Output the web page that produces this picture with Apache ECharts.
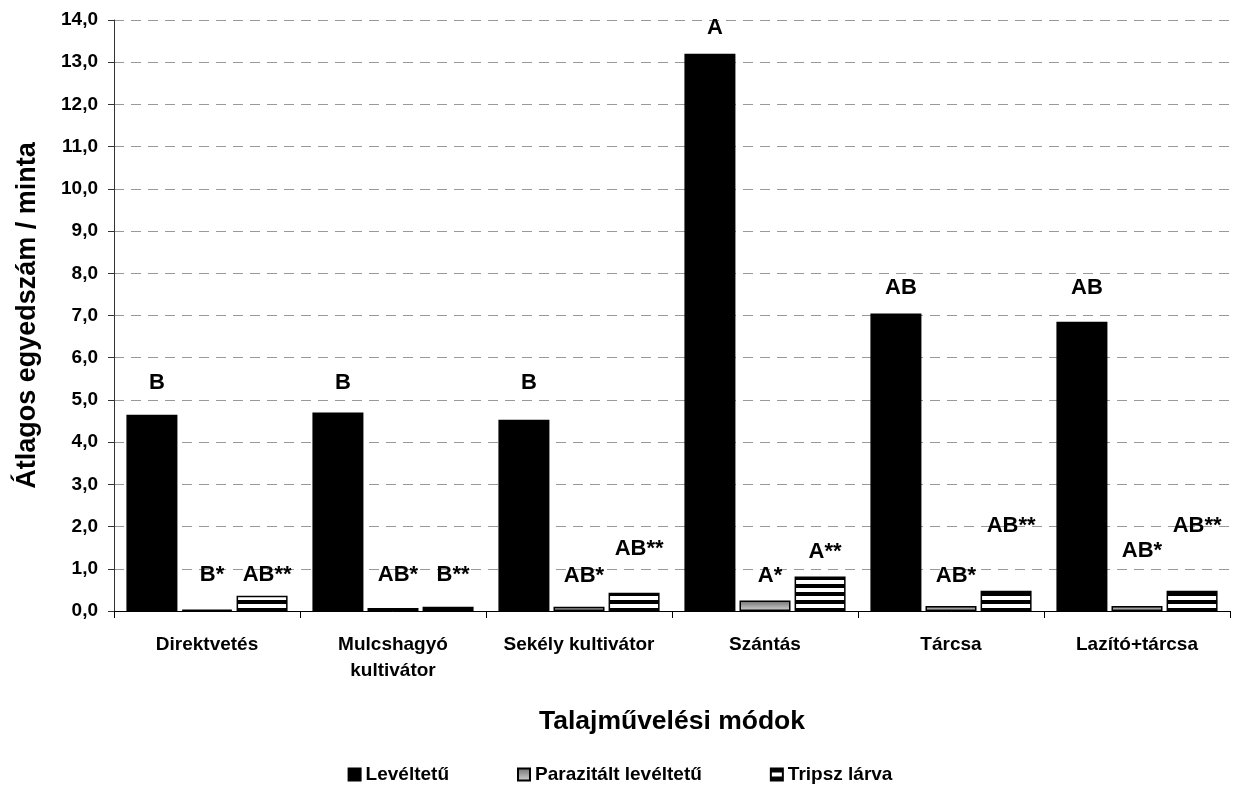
<!DOCTYPE html>
<html>
<head>
<meta charset="utf-8">
<script src="https://cdn.jsdelivr.net/npm/echarts@6/dist/echarts.min.js"></script>
<style>
html,body{margin:0;padding:0;background:#fff;}
#chart{width:1240px;height:785px;}
</style>
</head>
<body>
<div id="chart"></div>
<script>
// ---- data ----
var categories = ['Direktvetés', 'Mulcshagyó\nkultivátor', 'Sekély kultivátor', 'Szántás', 'Tárcsa', 'Lazító+tárcsa'];
var seriesNames = ['Levéltetű', 'Parazitált levéltetű', 'Tripsz lárva'];
var levelteto = [4.65, 4.70, 4.53, 13.2, 7.05, 6.85];
var parazitalt = [0.03, 0.07, 0.10, 0.25, 0.12, 0.12];
var tripsz = [0.36, 0.10, 0.43, 0.82, 0.48, 0.48];
// significance letters and the value height at which each is printed
var leveltetoLetters = ['B', 'B', 'B', 'A', 'AB', 'AB'];
var leveltetoLetterY = [5.40, 5.40, 5.40, 13.82, 7.65, 7.65];
var parazitaltLetters = ['B*', 'AB*', 'AB*', 'A*', 'AB*', 'AB*'];
var parazitaltLetterY = [0.85, 0.85, 0.82, 0.82, 0.82, 1.42];
var tripszLetters = ['AB**', 'B**', 'AB**', 'A**', 'AB**', 'AB**'];
var tripszLetterY = [0.85, 0.85, 1.47, 1.40, 2.02, 2.02];
var yMin = 0, yMax = 14, yStep = 1;

// ---- styles ----
var FONT = '"Liberation Sans", Arial, sans-serif';
function stripeCanvas() {
  var c = document.createElement('canvas');
  c.width = 8; c.height = 8;
  var g = c.getContext('2d');
  g.fillStyle = '#ffffff'; g.fillRect(0, 0, 8, 8);
  g.fillStyle = '#000000'; g.fillRect(0, 0, 8, 4);
  return c;
}
var grayGrad = new echarts.graphic.LinearGradient(0, 0, 0, 1, [
  {offset: 0, color: '#6e6e6e'},
  {offset: 1, color: '#d6d6d6'}
]);
var fills = ['#000000', grayGrad, {image: stripeCanvas(), repeat: 'repeat'}];

function markLabels(letters, ys) {
  return {
    symbol: 'rect',
    symbolSize: 1,
    itemStyle: {color: 'rgba(0,0,0,0)'},
    label: {
      show: true, position: 'inside', color: '#000', offset: [5, 0],
      fontFamily: FONT, fontWeight: 'bold', fontSize: 22,
      formatter: function (p) { return p.name; }
    },
    emphasis: {disabled: true},
    data: letters.map(function (t, i) { return {name: t, coord: [i, ys[i]], value: ys[i]}; })
  };
}

var valueSets = [levelteto, parazitalt, tripsz];
var letterSets = [leveltetoLetters, parazitaltLetters, tripszLetters];
var letterYSets = [leveltetoLetterY, parazitaltLetterY, tripszLetterY];

var series = seriesNames.map(function (n, k) {
  return {
    name: n,
    type: 'bar',
    data: valueSets[k],
    barWidth: 51,
    barGap: '8%',
    itemStyle: {color: fills[k], borderColor: '#000', borderWidth: 1.5},
    emphasis: {disabled: true},
    animation: false,
    markPoint: markLabels(letterSets[k], letterYSets[k])
  };
});

var chart = echarts.init(document.getElementById('chart'), null, {renderer: 'canvas'});
chart.setOption({
  backgroundColor: '#ffffff',
  animation: false,
  textStyle: {fontFamily: FONT},
  grid: {left: 114, right: 10, top: 20, bottom: 174, containLabel: false},
  legend: {
    left: 'center', top: 760,
    itemWidth: 12, itemHeight: 12, itemGap: 68,
    icon: 'rect',
    selectedMode: false,
    textStyle: {fontFamily: FONT, fontWeight: 'bold', fontSize: 19, color: '#000', padding: [0, 0, 0, 0]},
    data: seriesNames
  },
  xAxis: {
    type: 'category',
    data: categories,
    name: 'Talajművelési módok',
    nameLocation: 'middle',
    nameGap: 97,
    nameTextStyle: {fontFamily: FONT, fontWeight: 'bold', fontSize: 26.5, color: '#000'},
    axisLine: {lineStyle: {color: '#000', width: 1}},
    axisTick: {show: true, length: 7, lineStyle: {color: '#000'}},
    axisLabel: {fontFamily: FONT, fontWeight: 'bold', fontSize: 19, color: '#000', margin: 21, lineHeight: 26, interval: 0},
    splitLine: {show: false}
  },
  yAxis: {
    type: 'value',
    min: yMin, max: yMax, interval: yStep,
    name: 'Átlagos egyedszám / minta',
    nameLocation: 'middle',
    nameGap: 73,
    nameTextStyle: {fontFamily: FONT, fontWeight: 'bold', fontSize: 27, color: '#000'},
    axisLine: {show: true, lineStyle: {color: '#333', width: 1}},
    axisTick: {show: true, length: 6, lineStyle: {color: '#333'}},
    axisLabel: {
      fontFamily: FONT, fontWeight: 'bold', fontSize: 19, color: '#000', margin: 16,
      formatter: function (v) { return v.toFixed(1).replace('.', ','); }
    },
    splitLine: {show: true, lineStyle: {color: '#999', type: [10, 7], width: 1}}
  },
  series: series
});
</script>
</body>
</html>
